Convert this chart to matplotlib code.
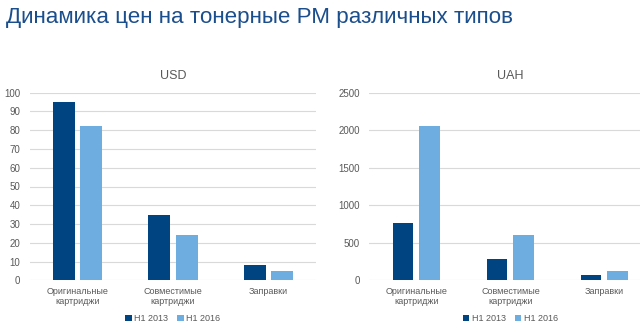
import matplotlib
matplotlib.use("Agg")
import matplotlib.pyplot as plt
import numpy as np

plt.rcParams['font.family'] = ['Liberation Sans', 'DejaVu Sans']

title = "Динамика цен на тонерные РМ различных типов"
categories = ["Оригинальные\nкартриджи", "Совместимые\nкартриджи", "Заправки"]
series_names = ["H1 2013", "H1 2016"]
usd_2013 = [95, 35, 8]
usd_2016 = [82, 24, 5]
uah_2013 = [760, 280, 65]
uah_2016 = [2050, 600, 120]

dark = "#004481"
light = "#6DADE0"
grid_c = "#D9D9D9"
txt_c = "#595959"

fig = plt.figure(figsize=(6.4, 3.32), dpi=100)
fig.text(6/640, 1 - 17/332, title, fontsize=16.1, color="#1B4E8C", ha="left", va="center")

def panel(rect, v1, v2, ymax, step, sub, bw):
    ax = fig.add_axes(rect)
    x = np.arange(len(categories))
    ax.bar(x - 0.142, v1, bw, color=dark, label=series_names[0], zorder=3)
    ax.bar(x + 0.142, v2, bw, color=light, label=series_names[1], zorder=3)
    ax.set_xlim(-0.5, 2.5)
    ax.set_ylim(0, ymax)
    ax.set_yticks(np.arange(0, ymax + 1, step))
    ax.yaxis.grid(True, color=grid_c, linewidth=0.8, zorder=0)
    for s in ax.spines.values():
        s.set_visible(False)
    ax.tick_params(axis="y", length=0, labelsize=7, labelcolor=txt_c, pad=7)
    ax.tick_params(axis="x", length=0, labelsize=6.5, labelcolor=txt_c, pad=5)
    ax.set_xticks(x)
    ax.set_xticklabels(categories, linespacing=1.15)
    ax.set_title(sub, fontsize=9, color=txt_c, pad=10)
    ax.legend(loc="center", bbox_to_anchor=(0.5, -0.206), ncol=2, frameon=False,
              fontsize=6.5, labelcolor=txt_c, handlelength=0.7, handleheight=0.7,
              handletextpad=0.3, columnspacing=1.0)
    return ax

panel([30/640, 51.7/332, 286/640, 187.6/332], usd_2013, usd_2016, 100, 10, "USD", 0.23)
panel([369.4/640, 51.7/332, 282/640, 187.6/332], uah_2013, uah_2016, 2500, 500, "UAH", 0.22)

fig.savefig("out.png", dpi=100)
